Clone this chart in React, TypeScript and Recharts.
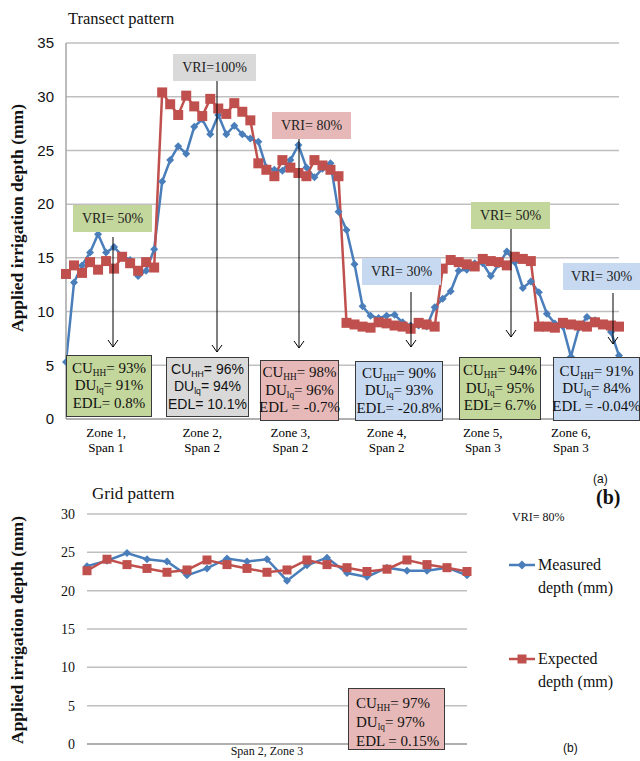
import React from 'react';
import { LineChart, Line, XAxis, YAxis, CartesianGrid } from 'recharts';

// ---- data ----
const transectMeasured = [
  5.3, 12.7, 14.3, 15.5, 17.2, 15.5, 16.0, 15.2, 14.8, 13.3, 13.8, 15.8,
  22.1, 24.1, 25.4, 24.7, 27.2, 27.9, 26.5, 28.3, 26.5, 27.3, 26.5, 26.1,
  25.8, 23.4, 23.2, 23.1, 24.1, 25.5, 23.4, 22.5, 23.3, 23.8, 19.3,
  17.6, 14.4, 10.5, 9.6, 9.4, 9.6, 9.7, 9.0, 8.7, 8.7, 8.6, 10.4,
  11.2, 11.9, 13.8, 13.9, 14.5, 14.5, 13.3, 14.4, 15.6, 14.6, 12.2, 12.8,
  11.8, 9.8, 8.9, 8.6, 5.8, 8.5, 9.5, 9.2, 8.9, 8.1, 5.9,
];
const transectExpected = [
  13.5, 14.3, 13.6, 14.6, 13.9, 14.7, 14.0, 15.1, 14.5, 13.8, 14.6, 14.1,
  30.4, 29.3, 28.3, 30.1, 29.1, 28.2, 29.8, 28.9, 28.4, 29.4, 28.6, 27.8,
  23.8, 23.2, 22.6, 24.1, 23.4, 22.9, 22.6, 24.1, 23.6, 23.2, 22.6,
  8.95, 8.8, 8.6, 8.5, 9.0, 8.9, 8.7, 8.6, 8.4, 8.95, 8.8, 8.6,
  14.0, 14.8, 14.6, 14.4, 14.2, 14.9, 14.7, 14.6, 14.3, 15.1, 14.9, 14.7,
  8.6, 8.6, 8.5, 8.95, 8.8, 8.7, 8.6, 9.0, 8.8, 8.7, 8.6,
];
const zoneTicks = [5, 17, 28, 40, 52, 63];
const zoneNames = ['Zone 1,', 'Zone 2,', 'Zone 3,', 'Zone 4,', 'Zone 5,', 'Zone 6,'];
const spanNames = ['Span 1', 'Span 2', 'Span 2', 'Span 2', 'Span 3', 'Span 3'];
const transectYTicks = [0, 5, 10, 15, 20, 25, 30, 35];

const vriLabels = ['VRI= 50%', 'VRI=100%', 'VRI= 80%', 'VRI= 30%', 'VRI= 50%', 'VRI= 30%'];
const cuValues = ['93%', '96%', '98%', '90%', '94%', '91%'];
const duValues = ['91%', '94%', '96%', '93%', '95%', '84%'];
const edlLabels = ['EDL= 0.8%', 'EDL= 10.1%', 'EDL = -0.7%', 'EDL= -20.8%', 'EDL= 6.7%', 'EDL = -0.04%'];

const gridMeasured = [23.2, 23.9, 24.9, 24.1, 23.8, 22.0, 22.9, 24.2, 23.8, 24.1, 21.3, 23.3, 24.3, 22.3, 21.8, 23.0, 22.6, 22.6, 23.0, 22.0];
const gridExpected = [22.6, 24.1, 23.4, 22.9, 22.4, 22.7, 24.0, 23.4, 22.9, 22.4, 22.7, 24.0, 23.4, 23.0, 22.5, 22.8, 24.0, 23.4, 23.0, 22.5];
const gridYTicks = [0, 5, 10, 15, 20, 25, 30];
const gridAxisLabel = 'Span 2, Zone 3';
const gridStats = { cu: '97%', du: '97%', edl: 'EDL = 0.15%' };

const transectData = transectMeasured.map((m, i) => ({ idx: i, measured: m, expected: transectExpected[i] }));
const gridData = gridMeasured.map((m, i) => ({ idx: i, measured: m, expected: gridExpected[i] }));

// ---- styling ----
const BLUE = '#4a7ebb';
const RED = '#c0504d';
const GREEN_BG = '#c3d69b';
const GRAY_BG = '#d9d9d9';
const PINK_BG = '#e6b9b8';
const BLUE_BG = '#c6d9f1';
const SERIF = '"Liberation Serif", "Times New Roman", serif';
const SANS = '"Liberation Sans", Arial, sans-serif';

const zoneColors = [GREEN_BG, GRAY_BG, PINK_BG, BLUE_BG, GREEN_BG, BLUE_BG];
const vriBoxes = [
  { x: 73, y: 205, w: 79, h: 27 },
  { x: 173, y: 54, w: 83, h: 27 },
  { x: 272, y: 112, w: 79, h: 27 },
  { x: 362, y: 258, w: 79, h: 27 },
  { x: 471, y: 202, w: 79, h: 27 },
  { x: 563, y: 263, w: 77, h: 27 },
];
const statBoxes = [
  { x: 66, y: 355, w: 86, h: 62, font: SERIF },
  { x: 166, y: 357, w: 83, h: 60, font: SANS },
  { x: 260, y: 360, w: 79, h: 61, font: SERIF },
  { x: 355, y: 361, w: 88, h: 60, font: SERIF },
  { x: 459, y: 357, w: 82, h: 63, font: SERIF },
  { x: 553, y: 357, w: 87, h: 64, font: SERIF },
];
const arrows = [
  { x: 113, y1: 237, y2: 347 },
  { x: 217, y1: 81, y2: 352 },
  { x: 299, y1: 139, y2: 348 },
  { x: 411, y1: 292, y2: 347 },
  { x: 511, y1: 229, y2: 337 },
  { x: 613, y1: 293, y2: 344 },
];

const Diamond = (props: any) => {
  const { cx, cy, size = 4, color = BLUE } = props;
  if (cx == null || cy == null) return null;
  return <path d={`M${cx},${cy - size}L${cx + size},${cy}L${cx},${cy + size}L${cx - size},${cy}Z`} fill={color} />;
};

const Square = (props: any) => {
  const { cx, cy, size = 5, color = RED } = props;
  if (cx == null || cy == null) return null;
  return <rect x={cx - size} y={cy - size} width={size * 2} height={size * 2} fill={color} />;
};

const ZoneTick = (props: any) => {
  const { x, y, payload } = props;
  const k = zoneTicks.indexOf(payload.value);
  return (
    <text x={x} y={y} textAnchor="middle" fontFamily={SERIF} fontSize={13} fill="#000">
      <tspan x={x} dy={10}>{zoneNames[k]}</tspan>
      <tspan x={x} dy={15}>{spanNames[k]}</tspan>
    </text>
  );
};

const GridTick = (props: any) => {
  const { x, y } = props;
  return (
    <text x={x} y={y + 3} textAnchor="middle" fontFamily={SERIF} fontSize={12} fill="#111">
      {gridAxisLabel}
    </text>
  );
};

const Sub = ({ children }: { children: React.ReactNode }) => (
  <span style={{ fontSize: '0.62em', position: 'relative', top: 3 }}>{children}</span>
);

const App = () => {
  return (
    <div style={{ position: 'absolute', left: 0, top: 0, width: 640, height: 761, background: '#fff', overflow: 'hidden' }}>
      {/* Transect chart */}
      <div style={{ position: 'absolute', left: 0, top: 0 }}>
        <LineChart width={640} height={480} data={transectData} margin={{ top: 43, right: 21, left: 0, bottom: 0 }}>
          <CartesianGrid vertical={false} stroke="#bfbfbf" strokeWidth={1.5} />
          <XAxis
            type="number"
            dataKey="idx"
            domain={[0, 69]}
            ticks={zoneTicks}
            interval={0}
            height={61}
            tickLine={false}
            axisLine={{ stroke: '#a6a6a6', strokeWidth: 1.5 }}
            tick={<ZoneTick />}
          />
          <YAxis
            domain={[0, 35]}
            ticks={transectYTicks}
            width={66}
            tickLine={false}
            tickMargin={6}
            axisLine={{ stroke: '#a6a6a6', strokeWidth: 1.5 }}
            tick={{ fontFamily: SANS, fontSize: 15, fill: '#111' }}
          />
          <Line dataKey="measured" stroke={BLUE} strokeWidth={2.5} dot={<Diamond size={4} />} isAnimationActive={false} />
          <Line dataKey="expected" stroke={RED} strokeWidth={2.5} dot={<Square size={5} />} isAnimationActive={false} />
        </LineChart>
      </div>

      {/* Grid chart */}
      <div style={{ position: 'absolute', left: 0, top: 490 }}>
        <LineChart width={640} height={271} data={gridData} margin={{ top: 24, right: 173, left: 0, bottom: 0 }}>
          <CartesianGrid vertical={false} stroke="#bfbfbf" strokeWidth={1.5} />
          <XAxis
            type="number"
            dataKey="idx"
            domain={[0, 19]}
            ticks={[9]}
            height={17}
            tickLine={false}
            axisLine={{ stroke: '#a6a6a6', strokeWidth: 1.5 }}
            tick={<GridTick />}
          />
          <YAxis
            domain={[0, 30]}
            ticks={gridYTicks}
            width={87}
            tickLine={false}
            tickMargin={6}
            axisLine={false}
            tick={{ fontFamily: SERIF, fontSize: 14, fill: '#111' }}
          />
          <Line dataKey="measured" stroke={BLUE} strokeWidth={2.5} dot={<Diamond size={4} />} isAnimationActive={false} />
          <Line dataKey="expected" stroke={RED} strokeWidth={2.5} dot={<Square size={4.5} />} isAnimationActive={false} />
        </LineChart>
      </div>

      {/* Text & arrows */}
      <svg width={640} height={761} style={{ position: 'absolute', left: 0, top: 0, pointerEvents: 'none' }}>
        <text x={68} y={24} fontFamily={SERIF} fontSize={16.5} fill="#111">Transect pattern</text>
        <text x={92} y={499} fontFamily={SERIF} fontSize={17} fill="#111">Grid pattern</text>
        <text transform="translate(23,218) rotate(-90)" textAnchor="middle" fontFamily={SERIF} fontWeight="bold" fontSize={17.5} fill="#111">Applied irrigation depth (mm)</text>
        <text transform="translate(23,630) rotate(-90)" textAnchor="middle" fontFamily={SERIF} fontWeight="bold" fontSize={17.5} fill="#111">Applied irrigation depth (mm)</text>
        <text x={593} y={483} fontFamily={SANS} fontSize={12} fill="#111">(a)</text>
        <text x={596} y={504} fontFamily={SERIF} fontWeight="bold" fontSize={20} fill="#111">(b)</text>
        <text x={512} y={521} fontFamily={SERIF} fontSize={12} fill="#111">VRI= 80%</text>
        <text x={563} y={752} fontFamily={SANS} fontSize={12} fill="#111">(b)</text>
        {arrows.map((a, i) => (
          <g key={i} stroke="#000" strokeWidth={1} fill="none">
            <line x1={a.x} y1={a.y1} x2={a.x} y2={a.y2} />
            <polyline points={`${a.x - 5},${a.y2 - 7} ${a.x},${a.y2} ${a.x + 5},${a.y2 - 7}`} />
          </g>
        ))}
        {/* legend */}
        <line x1={509} y1={565} x2={535} y2={565} stroke={BLUE} strokeWidth={2.5} />
        <Diamond cx={522} cy={565} size={4.5} />
        <text x={538} y={570} fontFamily={SERIF} fontSize={16} fill="#111">Measured</text>
        <text x={538} y={593} fontFamily={SERIF} fontSize={16} fill="#111">depth (mm)</text>
        <line x1={509} y1={659} x2={535} y2={659} stroke={RED} strokeWidth={2.5} />
        <Square cx={522} cy={659} size={4.5} />
        <text x={538} y={664} fontFamily={SERIF} fontSize={16} fill="#111">Expected</text>
        <text x={538} y={687} fontFamily={SERIF} fontSize={16} fill="#111">depth (mm)</text>
      </svg>

      {vriLabels.map((label, i) => {
        const b = vriBoxes[i];
        return (
          <div
            key={'vri' + i}
            style={{
              position: 'absolute', left: b.x, top: b.y, width: b.w, height: b.h, background: zoneColors[i],
              fontFamily: SERIF, fontSize: 14, color: '#222', display: 'flex', alignItems: 'center', justifyContent: 'center', whiteSpace: 'nowrap',
            }}
          >
            {label}
          </div>
        );
      })}

      {cuValues.map((cu, i) => {
        const b = statBoxes[i];
        return (
          <div
            key={'cu' + i}
            style={{
              position: 'absolute', left: b.x, top: b.y, width: b.w, height: b.h, background: zoneColors[i],
              border: '1px solid #3a3a3a', boxSizing: 'border-box', fontFamily: b.font, fontSize: b.font === SANS ? 14 : 15,
              lineHeight: '15.5px', color: '#111', display: 'flex', flexDirection: 'column', justifyContent: 'center',
              alignItems: 'center', whiteSpace: 'nowrap',
            }}
          >
            <div>CU<Sub>HH</Sub>= {cu}</div>
            <div>DU<Sub>lq</Sub>= {duValues[i]}</div>
            <div>{edlLabels[i]}</div>
          </div>
        );
      })}

      <div
        style={{
          position: 'absolute', left: 348, top: 688, width: 97, height: 62, background: PINK_BG,
          border: '1px solid #3a3a3a', boxSizing: 'border-box', fontFamily: SERIF, fontSize: 15, lineHeight: '17px',
          color: '#111', padding: '6px 0 0 7px', whiteSpace: 'nowrap',
        }}
      >
        <div>CU<Sub>HH</Sub>= {gridStats.cu}</div>
        <div>DU<Sub>lq</Sub>= {gridStats.du}</div>
        <div>{gridStats.edl}</div>
      </div>
    </div>
  );
};

export default App;
